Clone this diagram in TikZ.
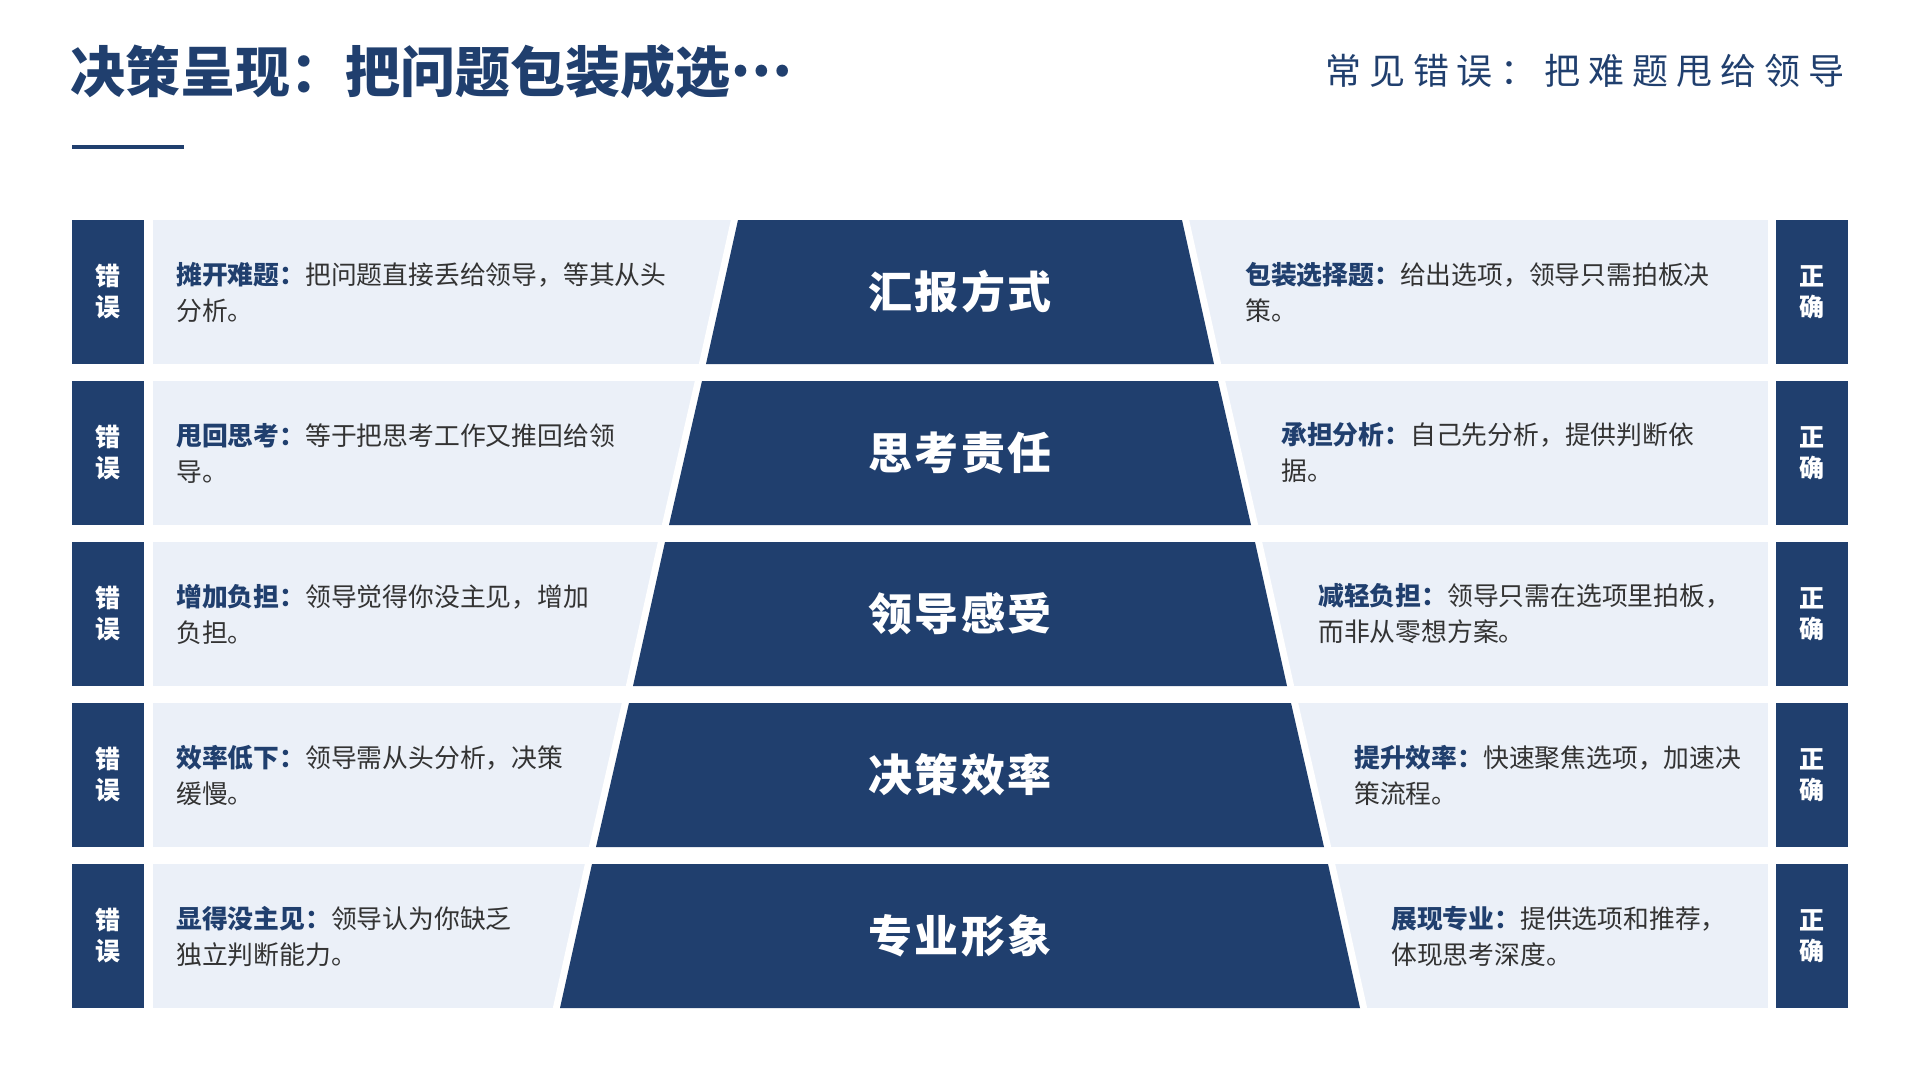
\documentclass[tikz,border=0pt]{standalone}
\usepackage{fontspec}
\setmainfont{Noto Sans CJK SC}
\definecolor{navy}{HTML}{203F6E}
\definecolor{pale}{HTML}{EBF0F8}
\definecolor{ink}{HTML}{333333}
\newcommand{\kw}[1]{{\bfseries\color{navy}#1}}

\begin{document}
\begin{tikzpicture}[
      x=1pt, y=-1pt,
      strip/.style={fill=pale},
      tag/.style={fill=navy,text=white,align=center,inner sep=0pt,minimum width=72pt,minimum height=144pt,font=\fontsize{25}{31}\selectfont\bfseries},
      wedge/.style={fill=navy,preaction={draw=white,line width=14pt,line join=round}},
      topic/.style={text=white,inner sep=0pt,font=\fontsize{44}{50}\selectfont\bfseries\addfontfeature{LetterSpace=6}},
      note/.style={anchor=west,align=left,text=ink,inner sep=0pt,font=\fontsize{25.8}{36}\selectfont}
    ]
    \useasboundingbox (0,0) rectangle (1920,1080);
    % Draw the heading.
    \node[anchor=west,inner sep=0pt,text=navy,font=\fontsize{55}{60}\selectfont\bfseries] (title) at (70,72) {决策呈现：把问题包装成选\raisebox{0.3em}{…}};
    \fill[navy] (72,145) rectangle (184,149);
    \node[anchor=west,inner sep=0pt,text=navy,font=\fontsize{36}{40}\selectfont\addfontfeature{LetterSpace=22}] (subtitle) at (1325,71) {常见错误：把难题甩给领导};
    % Draw the pale strips.
    \fill[strip] (153,220) rectangle (1768,364);
    \fill[strip] (153,381) rectangle (1768,525);
    \fill[strip] (153,542) rectangle (1768,686);
    \fill[strip] (153,703) rectangle (1768,847);
    \fill[strip] (153,864) rectangle (1768,1008);
    % Draw the funnel.
    \path[wedge] (738,220) -- (1182,220) -- (1214,364) -- (706,364) -- cycle;
    \path[wedge] (702,381) -- (1218,381) -- (1251,525) -- (669,525) -- cycle;
    \path[wedge] (665,542) -- (1255,542) -- (1287,686) -- (633,686) -- cycle;
    \path[wedge] (629,703) -- (1291,703) -- (1324,847) -- (596,847) -- cycle;
    \path[wedge] (592,864) -- (1328,864) -- (1360,1008) -- (560,1008) -- cycle;
    \node[topic] (topic1) at (960,292) {汇报方式};
    \node[topic] (topic2) at (960,453) {思考责任};
    \node[topic] (topic3) at (960,614) {领导感受};
    \node[topic] (topic4) at (960,775) {决策效率};
    \node[topic] (topic5) at (960,936) {专业形象};
    % Draw the tags.
    \node[tag] (wrong1) at (108,292) {错\\误};
    \node[tag] (wrong2) at (108,453) {错\\误};
    \node[tag] (wrong3) at (108,614) {错\\误};
    \node[tag] (wrong4) at (108,775) {错\\误};
    \node[tag] (wrong5) at (108,936) {错\\误};
    \node[tag] (right1) at (1811.5,292) {正\\确};
    \node[tag] (right2) at (1811.5,453) {正\\确};
    \node[tag] (right3) at (1811.5,614) {正\\确};
    \node[tag] (right4) at (1811.5,775) {正\\确};
    \node[tag] (right5) at (1811.5,936) {正\\确};
    % Draw the notes.
    \node[note] (bad1) at (176,292) {\kw{摊开难题：}把问题直接丢给领导，等其从头\\分析。};
    \node[note] (bad2) at (176,453) {\kw{甩回思考：}等于把思考工作又推回给领\\导。};
    \node[note] (bad3) at (176,614) {\kw{增加负担：}领导觉得你没主见，增加\\负担。};
    \node[note] (bad4) at (176,775) {\kw{效率低下：}领导需从头分析，决策\\缓慢。};
    \node[note] (bad5) at (176,936) {\kw{显得没主见：}领导认为你缺乏\\独立判断能力。};
    \node[note] (good1) at (1245,292) {\kw{包装选择题：}给出选项，领导只需拍板决\\策。};
    \node[note] (good2) at (1281,453) {\kw{承担分析：}自己先分析，提供判断依\\据。};
    \node[note] (good3) at (1318,614) {\kw{减轻负担：}领导只需在选项里拍板，\\而非从零想方案。};
    \node[note] (good4) at (1354,775) {\kw{提升效率：}快速聚焦选项，加速决\\策流程。};
    \node[note] (good5) at (1391,936) {\kw{展现专业：}提供选项和推荐，\\体现思考深度。};
\end{tikzpicture}
\end{document}
